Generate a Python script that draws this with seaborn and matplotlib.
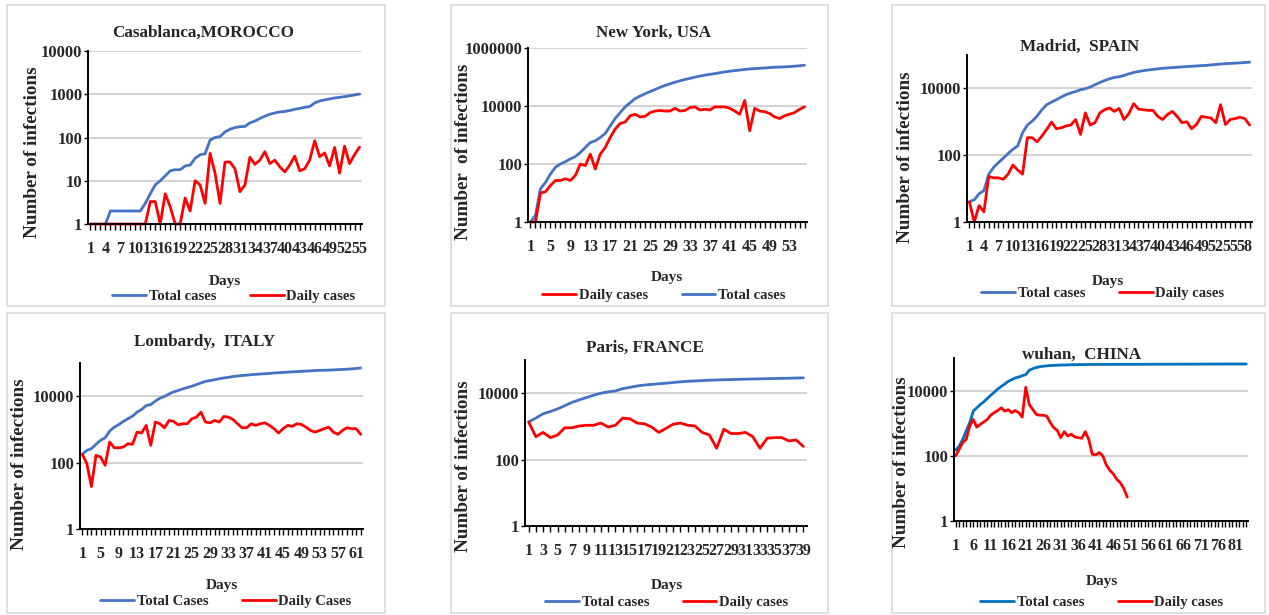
import numpy as np
import matplotlib
matplotlib.use("Agg")
import matplotlib.pyplot as plt
import seaborn as sns
from matplotlib.patches import Rectangle
from matplotlib.ticker import FixedLocator, FixedFormatter, NullLocator

nan = np.nan

# ---------------- data ----------------
cas_total = [nan, nan, nan, 1, 2, 2, 2, 2, 2, 2, 2, 3, 5, 8, 10, 13, 17, 18, 18, 22,
             23, 33, 40, 42, 87, 100, 105, 135, 155, 170, 178, 180, 218, 240, 275, 310,
             345, 370, 390, 400, 420, 450, 470, 500, 520, 630, 700, 740, 780, 820, 850,
             880, 920, 960, 1010]
cas_daily = [1, 1, 1, 1, 1, 1, 1, 1, 1, 1, 1, 1, 3.3, 3.3, 1, 5, 2.5, 1, 1, 4,
             2, 10, 8, 3, 43, 15, 3, 27, 27, 19, 5.6, 8, 35, 24, 30, 47, 25, 30, 21, 16,
             23, 37, 17, 19, 30, 84, 36, 44, 22, 59, 15, 63, 25, 40, 60]

ny_total = [1, 1.7, 14, 23, 45, 77, 100, 120, 150, 180, 250, 370, 550, 630, 820, 1130,
            2050, 3700, 5900, 9300, 13000, 18000, 22000, 26500, 31500, 37000, 44000,
            51000, 58000, 66000, 74000, 82000, 90000, 99000, 107000, 116000, 123000,
            131000, 140000, 150000, 158000, 166000, 174000, 182000, 189000, 195000,
            200000, 205000, 212000, 218000, 220000, 223000, 229000, 235000, 245000, 255000]
ny_daily = [1, 1, 10, 11, 18, 27, 27, 31, 27, 40, 100, 88, 220, 67, 220, 370, 820, 1600,
            2500, 2800, 4600, 5200, 4200, 4400, 5900, 6700, 7000, 6700, 6700, 8300, 6700,
            7000, 8800, 9300, 7300, 7700, 7300, 9300, 9300, 9300, 8300, 6700, 5200, 15500,
            1400, 8300, 6700, 6400, 5500, 4200, 3700, 4600, 5200, 5900, 7700, 9300]

mad_total = [4.1, 4.6, 7, 8.7, 27, 43, 60, 81, 112, 150, 190, 470, 800, 1050, 1480, 2300,
             3250, 3900, 4600, 5500, 6500, 7300, 8100, 9100, 9800, 11000, 12900, 15000,
             17300, 19400, 21300, 22300, 24400, 27300, 30000, 32000, 34000, 35500, 37000,
             38500, 40000, 41000, 42000, 43000, 44000, 45000, 46000, 47000, 48000, 49000,
             50500, 52000, 53500, 55000, 56000, 57000, 58000, 59500, 61000]
mad_daily = [4, 1, 3.1, 2, 23, 21, 21, 19, 27, 51, 36, 27, 335, 335, 250, 375, 590, 980,
             620, 660, 750, 800, 1170, 420, 1850, 800, 940, 1850, 2300, 2600, 2050, 2500,
             1170, 1750, 3500, 2400, 2300, 2200, 2200, 1450, 1170, 1650, 2050, 1450, 940,
             1000, 620, 830, 1450, 1370, 1300, 940, 3250, 830, 1170, 1250, 1370, 1250, 800]

lom_total = [178, 234, 263, 355, 470, 560, 890, 1170, 1400, 1740, 2100, 2500, 3300, 4000,
             5200, 5600, 7100, 8700, 9800, 11700, 13500, 14800, 16600, 18200, 20000, 22400,
             25000, 28000, 29500, 31500, 33500, 35500, 37000, 39000, 40500, 42000, 43000,
             44500, 45500, 46500, 47500, 48500, 50000, 51000, 52000, 53000, 54000, 55000,
             56000, 57000, 58000, 59500, 60000, 60500, 61000, 62000, 63000, 64000, 65000,
             66500, 68500, 71000]
lom_daily = [178, 93, 19, 166, 148, 83, 417, 280, 280, 295, 370, 355, 830, 780, 1320, 330,
             1660, 1480, 1120, 1860, 1740, 1380, 1480, 1480, 2090, 2340, 3300, 1660, 1580,
             1860, 1660, 2450, 2340, 2000, 1480, 1120, 1120, 1480, 1320, 1480, 1580, 1320,
             1050, 780, 1050, 1320, 1230, 1480, 1410, 1170, 930, 830, 930, 1050, 1170, 830,
             710, 930, 1120, 1050, 1050, 710]

par_total = [1360, 1780, 2400, 2800, 3360, 4200, 5300, 6300, 7400, 8700, 10000, 11000,
             11700, 13700, 15000, 16500, 17600, 18400, 19200, 20000, 21000, 22000, 22800,
             23400, 24000, 24600, 25000, 25400, 25800, 26100, 26500, 26800, 27100, 27400,
             27700, 28000, 28300, 28600, 29000]
par_daily = [1360, 490, 660, 460, 550, 910, 910, 1030, 1080, 1080, 1260, 960, 1080, 1780,
             1700, 1260, 1200, 960, 660, 870, 1170, 1260, 1080, 1030, 660, 550, 220, 820,
             610, 610, 660, 490, 220, 440, 460, 460, 365, 390, 250]

wuh_total = [150, 200, 320, 580, 1040, 2350, 2960, 3740, 4500, 5700, 7200, 8900, 11200,
             13500, 15900, 19200, 21700, 24400, 26000, 28700, 30800, 42000, 47000, 51000,
             54000, 56000, 57500, 58500, 59500, 60000, 60500, 61000, 61500, 62000, 62300,
             62600, 62800, 63000, 63200, 63300, 63400, 63500, 63500, 63600, 63600, 63700,
             63700, 63800, 63800, 63900, 63900, 64000, 64000, 64100, 64100, 64200, 64200,
             64300, 64300, 64400, 64400, 64500, 64500, 64600, 64600, 64700, 64700, 64800,
             64800, 64900, 64900, 65000, 65000, 65100, 65100, 65200, 65200, 65300, 65300,
             65400, 65400, 65500, 65500, 65600]
wuh_daily = [100, 160, 256, 320, 820, 1300, 760, 920, 1090, 1300, 1780, 2100, 2450, 2960,
             2350, 2600, 2100, 2450, 2100, 1540, 12600, 3740, 2650, 1860, 1760, 1760, 1650,
             1040, 730, 600, 360, 550, 405, 460, 380, 360, 345, 550, 320, 112, 107, 126,
             100, 53, 36, 28, 19, 15, 10, 5.4]

titles = ["Casablanca,MOROCCO", "New York, USA", "Madrid,  SPAIN",
          "Lombardy,  ITALY", "Paris, FRANCE", "wuhan,  CHINA"]
ylabels = ["Number of infections", "Number  of infections", "Number of infections",
           "Number of infections", "Number of infections", "Number of infections"]
legend_labels = [("Total cases", "Daily cases"), ("Total cases", "Daily cases"),
                 ("Total cases", "Daily cases"), ("Total Cases", "Daily Cases"),
                 ("Total cases", "Daily cases"), ("Total cases", "Daily cases")]
tick_steps = [3, 4, 3, 4, 2, 5]
ytick_sets = [[1, 10, 100, 1000, 10000], [1, 100, 10000, 1000000], [1, 100, 10000],
              [1, 100, 10000], [1, 100, 10000], [1, 100, 10000]]
ytops = [1e4, 1e6, 1e5, 1e5, 1e5, 1e5]

# ---------------- layout (pixels) ----------------
W, H = 1269, 615
sns.set_theme(style="white")
plt.rcParams['font.family'] = ['Liberation Serif', 'DejaVu Serif']
plt.rcParams['font.weight'] = 'bold'

fig = plt.figure(figsize=(W / 100, H / 100), dpi=100)
fig.patch.set_facecolor('white')


def fx(px):
    return px / W


def fy(py):
    return 1 - py / H


boxes = [(7, 5, 385, 306), (451, 5, 828, 306), (892, 5, 1265, 306),
         (7, 313, 385, 613), (451, 313, 828, 613), (892, 313, 1265, 613)]
axboxes = [(88, 51, 362, 224), (528, 48, 807, 222), (967, 55, 1252, 222),
           (80, 363, 363, 529), (525, 360, 807, 526), (954, 358, 1248, 521)]
title_pos = [(203, 33), (654, 33), (1080, 47), (205, 342), (645, 348), (1082, 355)]
ylab_pos = [(33, 152), (463, 152), (905, 157), (20, 464), (463, 466), (902, 462)]
days_pos = [(225, 281), (667, 278), (1108, 282), (222, 586), (667, 586), (1102, 582)]
leg_pos = [(234, 296), (664, 295), (1103, 293), (226, 601), (667, 602), (1102, 602)]
daily_first = [False, True, False, False, False, False]
blue_cols = ['#4472C4'] * 5 + ['#0070C0']
RED = '#FF0000'

series = [(cas_total, cas_daily), (ny_total, ny_daily), (mad_total, mad_daily),
          (lom_total, lom_daily), (par_total, par_daily), (wuh_total, wuh_daily)]

for i in range(6):
    l, t, r, b = boxes[i]
    fig.add_artist(Rectangle((fx(l), fy(b)), (r - l) / W, (b - t) / H,
                             transform=fig.transFigure, fill=False,
                             edgecolor='#d9d9d9', lw=1.2))
    l, t, r, b = axboxes[i]
    ax = fig.add_axes([fx(l), fy(b), (r - l) / W, (b - t) / H])
    ax.set_facecolor('white')
    total, daily = series[i]
    n = len(total)
    d_tot = np.arange(1, len(total) + 1)
    d_day = np.arange(1, len(daily) + 1)
    ax.set_yscale('log')
    sns.lineplot(x=d_tot, y=total, ax=ax, color=blue_cols[i], lw=2.0, clip_on=False)
    sns.lineplot(x=d_day, y=daily, ax=ax, color=RED, lw=2.0, clip_on=False)
    lines = ax.get_lines()
    h_tot, h_day = lines[0], lines[1]

    ax.set_ylim(1, ytops[i])
    ax.set_xlim(0.5, n + 0.5)
    ax.yaxis.set_major_locator(FixedLocator(ytick_sets[i]))
    ax.yaxis.set_major_formatter(FixedFormatter([str(v) for v in ytick_sets[i]]))
    ax.yaxis.set_minor_locator(NullLocator())
    major = list(range(1, n + 1, tick_steps[i]))
    ax.xaxis.set_major_locator(FixedLocator(major))
    ax.xaxis.set_major_formatter(FixedFormatter([str(v) for v in major]))
    ax.xaxis.set_minor_locator(FixedLocator(list(range(1, n + 1))))

    ax.grid(axis='y', which='major', color='#d0d0d0', lw=1.3)
    ax.grid(axis='x', visible=False)
    ax.set_axisbelow(True)
    for s in ['top', 'right']:
        ax.spines[s].set_visible(False)
    for s in ['left', 'bottom']:
        ax.spines[s].set_color('black')
        ax.spines[s].set_linewidth(1.4)
    ax.tick_params(axis='x', which='both', direction='out', length=4, width=1,
                   color='black', bottom=True, pad=8.5)
    ax.tick_params(axis='x', which='major', labelsize=11.5)
    ax.tick_params(axis='y', which='major', direction='out', length=3, width=1,
                   color='black', left=True, pad=1, labelsize=12)
    for lab in ax.get_xticklabels() + ax.get_yticklabels():
        lab.set_fontweight('bold')
    ax.set_xlabel('')
    ax.set_ylabel('')

    tl, dl = legend_labels[i]
    if daily_first[i]:
        handles, labels = [h_day, h_tot], [dl, tl]
    else:
        handles, labels = [h_tot, h_day], [tl, dl]
    ax.legend(handles, labels, loc='center', bbox_to_anchor=(fx(leg_pos[i][0]), fy(leg_pos[i][1])),
              bbox_transform=fig.transFigure, ncol=2, frameon=False,
              prop={'weight': 'bold', 'size': 10.5}, handlelength=2.3,
              handletextpad=0.2, columnspacing=2.3, borderpad=0)

    fig.text(fx(title_pos[i][0]), fy(title_pos[i][1]), titles[i], ha='center', va='center',
             fontsize=12.3, fontweight='bold')
    fig.text(fx(ylab_pos[i][0]), fy(ylab_pos[i][1]), ylabels[i], ha='center', va='center',
             rotation=90, fontsize=13.8, fontweight='bold')
    fig.text(fx(days_pos[i][0]), fy(days_pos[i][1]), 'Days', ha='center', va='center',
             fontsize=11, fontweight='bold')

fig.savefig('out.png', dpi=100, facecolor='white')
